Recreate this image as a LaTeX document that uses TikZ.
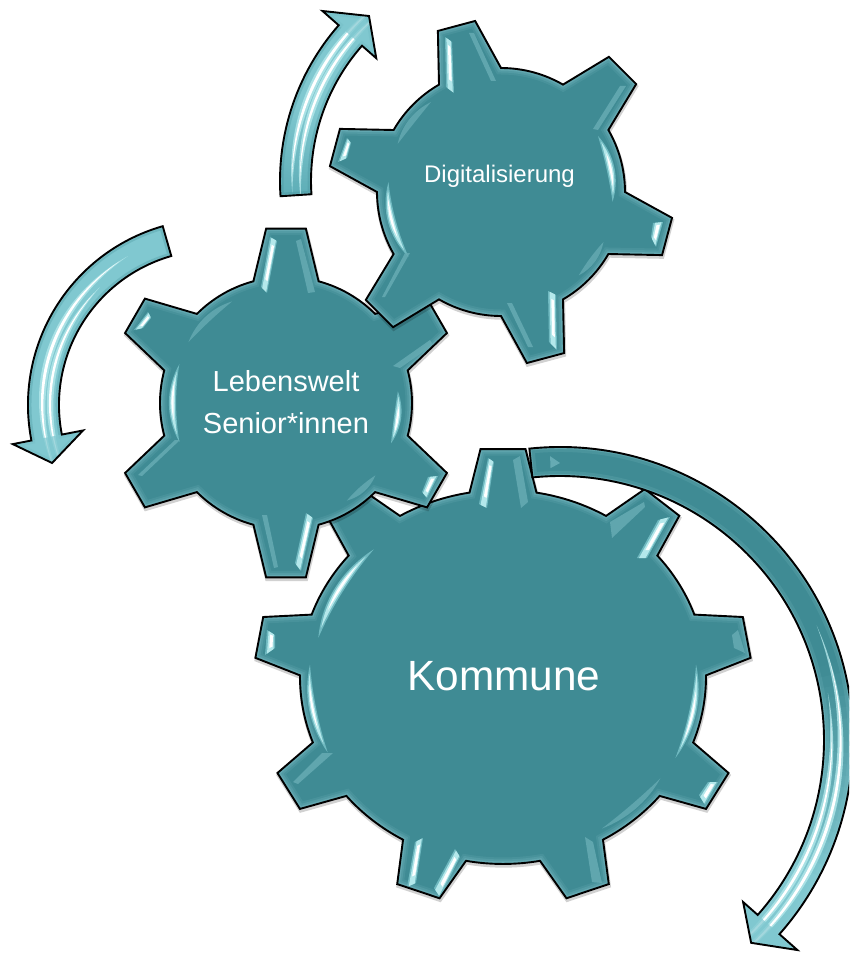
\documentclass[tikz,border=0pt]{standalone}
\usepackage{fontspec}
\setmainfont{Liberation Sans}
\usetikzlibrary{calc}
\definecolor{gearteal}{HTML}{3F8B94}
\definecolor{rimglow}{HTML}{9AD6DC}
\definecolor{hlbase}{HTML}{6FB9C0}
\definecolor{hlmid}{HTML}{B4E8EB}
\definecolor{hldim}{HTML}{66ABB3}
\definecolor{lightarrow}{HTML}{80C8D0}
\definecolor{midarrow}{HTML}{5FAEB7}
\tikzset{
  outlineline/.style={draw=black,line width=1.9pt,line join=miter},
  labeltext/.style={text=white,inner sep=0pt,anchor=base}
}
% ---------- gear: centre, r, R, teeth, first tooth angle, base half, tip half, yscale
\newcommand\gearset[9]{%
  \def\Gcx{#1}\def\Gcy{#2}\def\Gr{#3}\def\GR{#4}\def\Gph{#6}\def\Gbh{#7}\def\Gtd{#8}\def\Gys{#9}%
  \pgfmathsetmacro\Gst{360/#5}\pgfmathtruncatemacro\Gm{#5-1}\pgfmathsetmacro\Gstart{#6-#7}}
\newcommand\gearoutline[1]{#1[shift={(\Gcx,\Gcy)},yscale=\Gys] (\Gstart:\Gr)
  \foreach \k [evaluate=\k as \c using {\Gph+\k*\Gst}] in {0,...,\Gm} {
    -- (\c-\Gbh:\Gr) -- (\c-\Gtd:\GR) -- (\c+\Gtd:\GR) -- (\c+\Gbh:\Gr)
    arc[start angle=\c+\Gbh,end angle=\c+\Gst-\Gbh,radius=\Gr]
  } -- cycle;}
\newcommand\gearbase{%
  \begin{scope}[shift={(0.6,2.2)}]\gearoutline{\draw[black,opacity=.18,line width=3pt]}\end{scope}%
  \gearoutline{\fill[gearteal]}}
\newcommand\gearrim{%
  \gearoutline{\draw[rimglow,opacity=.10,line width=13pt]}%
  \gearoutline{\draw[rimglow,opacity=.14,line width=9pt]}%
  \gearoutline{\draw[rimglow,opacity=.22,line width=5pt]}}
% ---------- lens shaped crescents in polar coordinates of the current scope;
% the control radii are corrected so that the lens really bulges to r1 and r2 at its middle
\newcommand\lensp[5]{%
  \pgfmathsetmacro\la{#3+(#4-#3)/3}\pgfmathsetmacro\lb{#4-(#4-#3)/3}\pgfmathsetmacro\lm{(#1+#2)/2}%
  \pgfmathsetmacro\lhi{(#2-0.25*\lm*cos((#4-#3)/2))/(0.75*cos((#4-#3)/6))}%
  \pgfmathsetmacro\llo{(#1-0.25*\lm*cos((#4-#3)/2))/(0.75*cos((#4-#3)/6))}%
  \fill[#5] (#3:\lm) .. controls (\la:\lhi) and (\lb:\lhi) .. (#4:\lm)
     .. controls (\lb:\llo) and (\la:\llo) .. (#3:\lm) -- cycle;}
\newcommand\brightlens[4]{%
  \pgfmathsetmacro\lw{#2-#1}%
  \pgfmathsetmacro\rz{#1+0.1*\lw}\pgfmathsetmacro\ry{#2-0.1*\lw}%
  \pgfmathsetmacro\ra{#1+0.25*\lw}\pgfmathsetmacro\rb{#2-0.25*\lw}%
  \pgfmathsetmacro\rc{#1+0.38*\lw}\pgfmathsetmacro\rd{#2-0.38*\lw}%
  \pgfmathsetmacro\aa{#3+0.1*(#4-#3)}\pgfmathsetmacro\ab{#4-0.1*(#4-#3)}%
  \pgfmathsetmacro\ac{#3+0.28*(#4-#3)}\pgfmathsetmacro\ad{#4-0.22*(#4-#3)}%
  \edef\lensZ{{\rz}{\ry}{#3}{#4}}\edef\lensA{{\ra}{\rb}{\aa}{\ab}}\edef\lensB{{\rc}{\rd}{\ac}{\ad}}%
  \expandafter\lensp\lensZ{hlbase}%
  \expandafter\lensp\lensA{hlmid}%
  \expandafter\lensp\lensB{white}}
\newcommand\dimlens[4]{\lensp{#1}{#2}{#3}{#4}{hldim,opacity=.8}}
% ---------- highlight quads in picture coordinates
\newcommand\brightq[4]{%
  \fill[hlbase] (#1) -- (#2) -- (#3) -- (#4) -- cycle;
  \fill[hlmid] ($(#1)!.2!(#2)$) -- ($(#1)!.85!(#2)$) -- ($(#4)!.85!(#3)$) -- ($(#4)!.2!(#3)$) -- cycle;
  \fill[white] ($($(#1)!.4!(#2)$)!.12!($(#4)!.4!(#3)$)$) -- ($($(#1)!.75!(#2)$)!.12!($(#4)!.75!(#3)$)$)
     -- ($($(#4)!.75!(#3)$)!.2!($(#1)!.75!(#2)$)$) -- ($($(#4)!.4!(#3)$)!.2!($(#1)!.4!(#2)$)$) -- cycle;}
\newcommand\dimq[4]{\fill[hldim,opacity=.85] (#1) -- (#2) -- (#3) -- (#4) -- cycle;}
% ---------- ring arrows
\newcommand\arrowset[9]{\def\Acx{#1}\def\Acy{#2}\def\Ari{#3}\def\Aro{#4}\def\Aa{#5}\def\Ab{#6}\def\Awi{#7}\def\Awo{#8}\def\At{#9}}
\newcommand\arrowpath[1]{#1 (\Aa:\Aro) arc[start angle=\Aa,end angle=\Ab,radius=\Aro]
   -- (\Ab:\Awo) -- (\At:\Atr) -- (\Ab:\Awi) -- (\Ab:\Ari)
   arc[start angle=\Ab,end angle=\Aa,radius=\Ari] -- cycle;}
% args: colA colB rampstart rampend
\newcommand\arrowbody[4]{%
  \pgfmathsetmacro\Am{(\Ari+\Aro)/2}\pgfmathsetmacro\Aw{\Aro-\Ari+8}%
  \arrowpath{\fill[#2]}%
  \foreach \i in {0,...,59} {%
    \pgfmathsetmacro\s{\Aa+(\Ab-\Aa)*\i/60}%
    \pgfmathsetmacro\e{\Aa+(\Ab-\Aa)*(\i+1.4)/60}%
    \pgfmathsetmacro\p{min(100,max(0,(\i/60-#3)/(#4-#3)*100))}%
    \draw[line width=\Aw pt,color=#2!\p!#1] (\s:\Am) arc[start angle=\s,end angle=\e,radius=\Am];
  }}
\newcommand\arrowstreak[4]{%
  \pgfmathsetmacro\rA{#1-#2/2-2.2}\pgfmathsetmacro\rB{#1+#2/2+2.2}%
  \pgfmathsetmacro\rC{#1-#2/2}\pgfmathsetmacro\rD{#1+#2/2}%
  \pgfmathsetmacro\sA{#3+0.08*(#4-#3)}\pgfmathsetmacro\sB{#4-0.04*(#4-#3)}%
  \edef\lensC{{\rC}{\rD}{\sA}{\sB}}%
  \lensp{\rA}{\rB}{#3}{#4}{hlmid,opacity=.8}%
  \expandafter\lensp\lensC{white}}
\newcommand\headcover{\fill[lightarrow,opacity=.72] (\Ab:\Awo) -- (\At:\Atr) -- (\Ab:\Awi) -- cycle;}
\begin{document}
\begin{tikzpicture}[x=1pt,y=1pt,yscale=-1]
\useasboundingbox (0,0) rectangle (849,955);
\clip (0,0) rectangle (849,955);

% ===== Kommune gear
\gearset{503}{677}{203}{248.5}{9}{-90}{9.5}{5.2}{0.921}
\gearbase
\begin{scope}
  \gearoutline{\clip}
  \gearrim
  \begin{scope}[shift={(\Gcx,\Gcy)},yscale=\Gys]
    \brightlens{189}{198}{-4}{27}
    \dimlens{189}{195}{35}{59}
    \brightlens{189}{198}{155}{184}
    \brightlens{184}{195}{193}{227}
  \end{scope}
  \brightq{488,458}{494,462}{487,508}{479,504}
  \dimq{513,460}{520,456}{528,502}{521,508}
  \dimq{610,522}{644,502}{645,507}{612,538}
  \brightq{658,520}{670,517}{647,558}{637,558}
  \dimq{732,635}{738,630}{745,653}{734,648}
  \brightq{708,782}{718,782}{705,805}{699,795}
  \dimq{585,837}{593,842}{602,883}{592,882}
  \brightq{455,849}{460,857}{440,897}{434,888}
  \brightq{415,842}{423,838}{416,883}{407,887}
  \dimq{293,782}{322,753}{333,753}{298,784}
  \brightq{267,630}{275,635}{275,648}{265,655}
\end{scope}
\gearoutline{\path[outlineline]}

% ===== Lebenswelt gear
\gearset{286}{403}{126}{175.5}{6}{-90}{15}{6.5}{1}
\gearbase
\begin{scope}
  \gearoutline{\clip}
  \gearrim
  \begin{scope}[shift={(\Gcx,\Gcy)}]
    \brightlens{109}{118}{160}{200}
    \brightlens{108}{117}{-6}{21}
    \dimlens{112}{118}{39}{58}
    \dimlens{112}{118}{212}{242}
  \end{scope}
  \brightq{270,237}{277,241}{267,293}{261,287}
  \dimq{296,241}{301,239}{315,292}{308,293}
  \brightq{148,312}{151,318}{143,328}{134,330}
  \dimq{138,475}{175,440}{180,440}{142,476}
  \dimq{262,515}{267,515}{278,567}{274,568}
  \brightq{306,513}{313,518}{301,571}{295,563}
  \brightq{428,477}{438,476}{427,498}{422,492}
  \dimq{393,366}{430,340}{433,345}{400,368}
\end{scope}
\gearoutline{\path[outlineline]}

% ===== Digitalisierung gear
\gearset{501}{192}{124}{173}{6}{15}{15}{6.4}{1}
\gearbase
\begin{scope}
  \gearoutline{\clip}
  \gearrim
  \begin{scope}[shift={(\Gcx,\Gcy)}]
    \brightlens{107}{117}{-30}{5}
    \dimlens{111}{117}{26}{47}
    \brightlens{108}{118}{145}{185}
    \dimlens{111}{117}{205}{232}
  \end{scope}
  \brightq{445,37}{452,42}{454,93}{446,87}
  \dimq{469,33}{474,33}{496,81}{491,81}
  \dimq{593,129}{620,86}{626,86}{598,130}
  \brightq{653,223}{663,222}{656,247}{651,237}
  \brightq{548,291}{556,295}{557,350}{549,342}
  \dimq{507,303}{512,303}{533,347}{528,347}
  \dimq{382,297}{405,253}{410,253}{385,297}
  \brightq{347,138}{351,143}{347,158}{338,162}
\end{scope}
\gearoutline{\path[outlineline]}

% ===== Arrow at the Kommune gear
\begin{scope}[shift={(560,740)}]
  \arrowset{560}{740}{264}{293}{-96}{41.5}{244.5}{317}{46.7}\def\Atr{278.7}
  \begin{scope}
    \arrowpath{\clip}
    \arrowbody{gearteal}{lightarrow}{.58}{.9}
    \arrowpath{\draw[rimglow,opacity=.12,line width=10pt]}
    \arrowpath{\draw[rimglow,opacity=.25,line width=4pt]}
    \arrowstreak{272}{2.6}{-10}{64}
    \arrowstreak{281}{3}{-24}{64}
    \headcover
    \fill[hldim] (-92:272) -- (-90:277) -- (-92:284) -- cycle;
  \end{scope}
  \arrowpath{\path[outlineline]}
\end{scope}

% ===== Arrow at the Lebenswelt gear
\begin{scope}[shift={(214,405)}]
  \arrowset{214}{405}{155}{186}{254}{169}{133.4}{205}{160.3}\def\Atr{172}
  \begin{scope}
    \arrowpath{\clip}
    \arrowbody{lightarrow}{lightarrow}{.0}{1.0}
    \arrowpath{\draw[gearteal,opacity=.28,line width=7pt]}
    \arrowpath{\draw[rimglow,opacity=.25,line width=3pt]}
    \arrowstreak{164}{2.4}{150}{226}
    \arrowstreak{172}{3}{152}{240}
    \headcover
  \end{scope}
  \arrowpath{\path[outlineline]}
\end{scope}

% ===== Arrow at the Digitalisierung gear
\begin{scope}[shift={(516,181)}]
  \arrowset{516}{181}{205}{236}{176.3}{221.3}{186}{257.6}{228.3}\def\Atr{221}
  \begin{scope}
    \arrowpath{\clip}
    \arrowbody{midarrow}{lightarrow}{.0}{.5}
    \arrowpath{\draw[gearteal,opacity=.28,line width=7pt]}
    \arrowpath{\draw[rimglow,opacity=.25,line width=3pt]}
    \arrowstreak{216}{2.6}{175}{236}
    \arrowstreak{224}{3}{177}{236}
    \headcover
  \end{scope}
  \arrowpath{\path[outlineline]}
\end{scope}

% ===== Labels
\node[labeltext,font=\fontsize{24}{24}\selectfont] (digi) at (499.5,182) {Digitalisierung};
\node[labeltext,font=\fontsize{29}{29}\selectfont] (leb1) at (286,391) {Lebenswelt};
\node[labeltext,font=\fontsize{29}{29}\selectfont] (leb2) at (286,433) {Senior*innen};
\node[labeltext,font=\fontsize{42.3}{42.3}\selectfont] (komm) at (504,690) {Kommune};
\end{tikzpicture}
\end{document}
